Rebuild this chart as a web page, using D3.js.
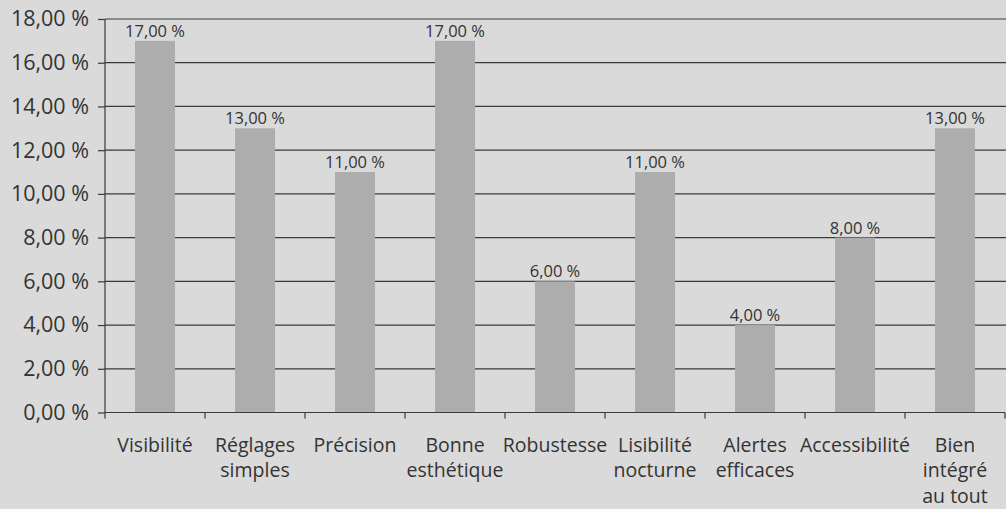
<!DOCTYPE html>
<html><head><meta charset="utf-8">
<script src="https://cdn.jsdelivr.net/npm/d3@7"></script>
<style>
html,body{margin:0;padding:0;background:#dadada;}
svg{display:block;}
text{font-family:"Open Sans","Noto Sans",sans-serif;fill:#333;}
</style></head>
<body>
<svg id="c" width="1006" height="509"></svg>
<script>
const categories = [
  ["Visibilité"],
  ["Réglages","simples"],
  ["Précision"],
  ["Bonne","esthétique"],
  ["Robustesse"],
  ["Lisibilité","nocturne"],
  ["Alertes","efficaces"],
  ["Accessibilité"],
  ["Bien","intégré","au tout"]
];
const values = [17, 13, 11, 17, 6, 11, 4, 8, 13];
const yTicks = [0, 2, 4, 6, 8, 10, 12, 14, 16, 18];

(function(){
const fmt = v => v.toFixed(2).replace(".", ",") + " %";
const svg = d3.select("#c");
const W = 1006, H = 509;
const mL = 105, mR = 1005, mT = 19, mB = 412.5;
const keys = categories.map((c,i)=>i);
const x = d3.scaleBand().domain(keys).range([mL, mR]).paddingInner(0).paddingOuter(0);
const y = d3.scaleLinear().domain([0,18]).range([mB, mT]);

svg.append("rect").attr("width",W).attr("height",H).attr("fill","#dadada");

// gridlines
svg.append("g").selectAll("line").data(yTicks.filter(t=>t>0)).join("line")
  .attr("x1", mL).attr("x2", W).attr("y1", d=>y(d)).attr("y2", d=>y(d))
  .attr("stroke","#3a3a3a").attr("stroke-width",1.2);

// bars
const bw = 40;
svg.append("g").selectAll("rect").data(values).join("rect")
  .attr("x",(d,i)=>x(i)+x.bandwidth()/2-bw/2)
  .attr("width",bw)
  .attr("y",d=>y(d))
  .attr("height",d=>y(0)-y(d))
  .attr("fill","#adadad");

// value labels
svg.append("g").selectAll("text").data(values).join("text")
  .attr("x",(d,i)=>x(i)+x.bandwidth()/2)
  .attr("y",d=>y(d)-4)
  .attr("text-anchor","middle")
  .attr("font-size","16.5px")
  .text(d=>fmt(d));

// y axis
const yAxis = d3.axisLeft(y).tickValues(yTicks).tickFormat(fmt).tickSize(7).tickPadding(9);
const gy = svg.append("g").attr("transform",`translate(${mL},0)`).call(yAxis);
gy.select(".domain").attr("stroke","#3a3a3a").attr("stroke-width",1.2).attr("d",`M0,${mT}V${mB}`);
gy.selectAll(".tick line").attr("stroke","#3a3a3a").attr("stroke-width",1.2);
gy.selectAll(".tick text").attr("font-size","21.5px").attr("fill","#333").attr("font-family","'Open Sans','Noto Sans',sans-serif");

// x axis
const gx = svg.append("g").attr("transform",`translate(0,${mB})`);
gx.append("line").attr("x1",mL).attr("x2",mR).attr("y1",0).attr("y2",0)
  .attr("stroke","#3a3a3a").attr("stroke-width",1.2);
const bounds = keys.map(i=>x(i)).concat([x(keys.length-1)+x.bandwidth()]);
gx.selectAll("line.t").data(bounds).join("line").attr("class","t")
  .attr("x1",d=>d).attr("x2",d=>d).attr("y1",0).attr("y2",6)
  .attr("stroke","#3a3a3a").attr("stroke-width",1.2);

const lab = svg.append("g").selectAll("text").data(categories).join("text")
  .attr("x",(d,i)=>x(i)+x.bandwidth()/2)
  .attr("y",451.5)
  .attr("text-anchor","middle")
  .attr("font-size","19.5px");
lab.each(function(d,i){
  const t = d3.select(this);
  d.forEach((line,j)=>{
    t.append("tspan").attr("x",x(i)+x.bandwidth()/2).attr("y",451.5+j*25.8).text(line);
  });
});
})();
</script>
</body></html>
